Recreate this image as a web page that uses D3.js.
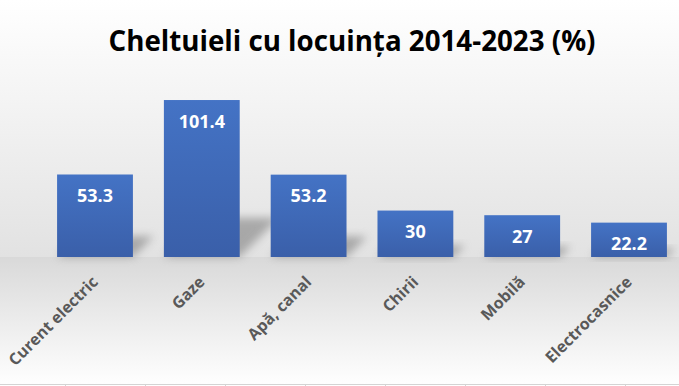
<!DOCTYPE html>
<html>
<head>
<meta charset="utf-8">
<script src="https://cdn.jsdelivr.net/npm/d3@7"></script>
<style>
  body { margin: 0; background: #fff; }
  svg { display: block; }
</style>
</head>
<body>
<svg id="chart" width="679" height="386"></svg>
<script>
var categories = ['Curent electric', 'Gaze', 'Apă, canal', 'Chirii', 'Mobilă', 'Electrocasnice'];
var values = [53.3, 101.4, 53.2, 30, 27, 22.2];
var title_text = 'Cheltuieli cu locuința 2014-2023 (%)';

function drawChart() {
    var svg = d3.select('#chart');
    var width = 679, height = 386;
    var base_y = 257;
    var font = "'Open Sans', 'DejaVu Sans', sans-serif";

    var defs = svg.append('defs');
    var wall = defs.append('linearGradient').attr('id', 'wall')
        .attr('x1', 0).attr('y1', 0).attr('x2', 0).attr('y2', 1);
    wall.append('stop').attr('offset', '0%').attr('stop-color', '#ffffff');
    wall.append('stop').attr('offset', '100%').attr('stop-color', '#e2e2e2');
    var floor = defs.append('linearGradient').attr('id', 'floor')
        .attr('x1', 0).attr('y1', 0).attr('x2', 0).attr('y2', 1);
    floor.append('stop').attr('offset', '0%').attr('stop-color', '#d9d9d9');
    floor.append('stop').attr('offset', '100%').attr('stop-color', '#ffffff');
    var barGrad = defs.append('linearGradient').attr('id', 'bar')
        .attr('x1', 0).attr('y1', 0).attr('x2', 0).attr('y2', 1);
    barGrad.append('stop').attr('offset', '0%').attr('stop-color', '#4473c5');
    barGrad.append('stop').attr('offset', '100%').attr('stop-color', '#3a5fa9');
    defs.append('filter').attr('id', 'blur')
        .attr('x', '-50%').attr('y', '-50%').attr('width', '200%').attr('height', '200%')
        .append('feGaussianBlur').attr('stdDeviation', 4);

    // background wall + floor
    svg.append('rect').attr('x', 0).attr('y', 0).attr('width', width).attr('height', base_y)
        .attr('fill', 'url(#wall)');
    svg.append('rect').attr('x', 0).attr('y', base_y).attr('width', width).attr('height', height - base_y)
        .attr('fill', 'url(#floor)');

    // sheet gridline at the bottom edge
    svg.append('line').attr('x1', 0).attr('x2', width).attr('y1', 384.5).attr('y2', 384.5)
        .attr('stroke', '#d4d4d4');
    for (var gx = 65.5; gx < width; gx += 80) {
        svg.append('line').attr('x1', gx).attr('x2', gx).attr('y1', 384).attr('y2', 386)
            .attr('stroke', '#d4d4d4');
    }

    var x = d3.scaleBand().domain(categories).range([41.6, 682.4])
        .paddingInner(0.29).paddingOuter(0.145);
    var y = d3.scaleLinear().domain([0, 120]).range([base_y, base_y - 120 * 1.548]);

    // shadows
    var k = 0.25;
    svg.append('g').selectAll('polygon').data(values).join('polygon')
        .attr('points', function (d, i) {
            var x0 = x(categories[i]), x1 = x0 + x.bandwidth();
            var h = base_y - y(d);
            var s = k * h;
            return [[x0, base_y], [x1, base_y], [x1 + s, base_y - s], [x0 + s, base_y - s]].join(' ');
        })
        .attr('fill', '#808080').attr('opacity', 0.6)
        .attr('filter', 'url(#blur)');

    // bars
    svg.append('g').selectAll('rect').data(values).join('rect')
        .attr('x', function (d, i) { return x(categories[i]); })
        .attr('y', function (d) { return y(d); })
        .attr('width', x.bandwidth())
        .attr('height', function (d) { return base_y - y(d); })
        .attr('fill', 'url(#bar)');

    // value labels
    svg.append('g').selectAll('text').data(values).join('text')
        .attr('x', function (d, i) { return x(categories[i]) + x.bandwidth() / 2; })
        .attr('y', function (d) { return y(d) + 27.5; })
        .attr('text-anchor', 'middle')
        .attr('font-family', font).attr('font-weight', 700).attr('font-size', 18)
        .attr('fill', '#ffffff')
        .text(function (d) { return d; });

    // category labels
    svg.append('g').selectAll('text').data(categories).join('text')
        .attr('transform', function (d) {
            return 'translate(' + (x(d) + x.bandwidth() / 2) + ',' + 279 + ') rotate(-45)';
        })
        .attr('text-anchor', 'end')
        .attr('dy', '0.35em')
        .attr('font-family', font).attr('font-weight', 700).attr('font-size', 16)
        .attr('fill', '#595959')
        .text(function (d) { return d; });

    // title
    svg.append('text')
        .attr('x', 352).attr('y', 51)
        .attr('text-anchor', 'middle')
        .attr('font-family', font).attr('font-weight', 700).attr('font-size', 28)
        .attr('textLength', 487).attr('lengthAdjust', 'spacingAndGlyphs')
        .attr('fill', '#000000')
        .text(title_text);
}

window.onload = drawChart;
</script>
</body>
</html>
